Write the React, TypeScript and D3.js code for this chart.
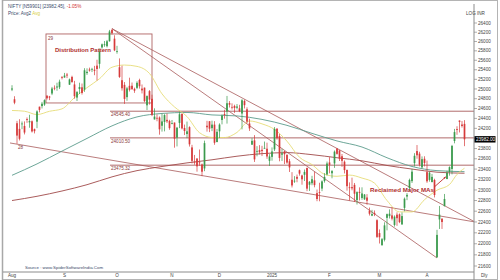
import React from "react";
import * as d3 from "d3";

const monthLabels = ["Aug", "S", "O", "N", "D", "2025", "F", "M", "A"];
const monthStartIdx = [0, 21, 42, 64, 83, 104, 127, 147, 166];

const opens = [
  24987,24789,24303,24190,24289,24248,24386,24320,24342,24184,
  24334,24637,24649,24680,24863,24845,24906,25024,25030,25035,
  25249,25238,25300,25089,25250,25094,24823,24999,25035,24986,
  25330,25406,25416,25402,25487,25525,25872,25921,25899,26005,
  26248,26061,25788,25453,25182,25085,24832,25065,25067,25002,
  25023,25186,25008,25027,24665,24956,24798,24379,24412,24418,
  24252,24329,24371,24349,24302,24316,24016,24309,24489,24207,
  24087,24225,23822,23542,23606,23529,23489,23412,24253,24343,
  24204,24275,23927,24141,24368,24489,24540,24711,24633,24652,
  24615,24604,24498,24753,24584,24298,23877,23961,23738,23769,
  23775,23801,23796,23560,23637,23784,24196,24045,23679,23746,
  23675,23551,23195,23165,23250,23378,23277,23290,23422,23099,
  23128,23183,22940,22960,23026,23169,23297,23528,23319,23509,
  23801,23761,23650,23543,23383,23050,23055,23097,22810,22964,
  22848,22822,22857,22609,22517,22568,22433,22195,21975,22073,
  22476,22509,22522,22345,22536,22542,22353,22662,22875,23036,
  23168,23515,23751,23700,23433,23600,23341,23192,23150,23190,
  21758,22446,22460,22695,23208,23345,23402,23949,24185,24357,
  24277,24290,
];
const highs = [
  25078,24851,24350,24383,24338,24340,24419,24473,24359,24196,
  24563,24638,24734,24787,24867,24858,25043,25074,25130,25193,
  25268,25334,25333,25216,25275,25168,24957,25130,25113,25433,
  25430,25445,25441,25482,25611,25849,25956,26011,26033,26250,
  26277,26134,25907,25639,25485,25143,25044,25234,25134,25028,
  25160,25213,25093,25029,24869,24978,24882,24604,24480,24440,
  24493,24485,24499,24372,24368,24316,24229,24537,24503,24276,
  24336,24242,23873,23675,23606,23781,23507,23956,24351,24343,
  24354,24345,24188,24301,24482,24574,24857,24751,24705,24677,
  24691,24675,24792,24781,24625,24394,24005,24065,23847,23867,
  23854,23938,23916,23690,23822,24226,24196,24089,23795,23751,
  23690,23596,23341,23264,23294,23391,23292,23391,23426,23169,
  23270,23347,23008,23137,23183,23322,23546,23632,23381,23762,
  23807,23773,23694,23568,23391,23144,23235,23133,22974,23049,
  23050,22923,22921,22668,22625,22614,22450,22262,22105,22394,
  22556,22634,22677,22522,22578,22558,22577,22857,22941,23216,
  23403,23709,23869,23737,23646,23649,23565,23350,23306,23214,
  22255,22698,22468,22924,23368,23452,23872,24189,24242,24359,
  24347,24365,
];
const lows = [
  24956,24687,23894,23960,24184,24079,24311,24212,24117,24099,
  24204,24522,24601,24654,24784,24771,24874,24973,24964,24998,
  25199,25235,25226,25084,25127,24801,24753,24896,24885,24941,
  25292,25361,25352,25286,25176,25426,25847,25886,25872,25998,
  26151,25794,25740,25230,24966,24694,24756,24948,24980,24920,
  24996,25008,24908,24728,24568,24679,24446,24378,24342,24074,
  24135,24140,24307,24172,24281,23817,23842,24204,24179,24066,
  24004,23839,23509,23484,23350,23464,23263,23359,24135,24125,
  24145,23874,23927,24008,24280,24395,24295,24620,24580,24511,
  24583,24527,24180,24601,24303,24149,23870,23538,23647,23685,
  23653,23800,23599,23460,23562,23751,23976,23551,23557,23496,
  23503,23344,23047,23135,23147,23273,23100,23170,22977,22981,
  23090,23050,22787,22786,22977,23139,23277,23318,23222,23423,
  23680,23556,23443,23316,22987,22798,22993,22774,22725,22801,
  22814,22812,22721,22519,22508,22508,22105,22005,21964,22043,
  22245,22464,22429,22315,22329,22378,22353,22599,22807,22973,
  23133,23451,23601,23451,23412,23451,23136,23158,23146,22858,
  21744,22271,22271,22690,23207,23273,23298,23903,24072,24119,
  24216,23847,
];
const closes = [
  25011,24718,24056,23993,24297,24117,24368,24347,24139,24144,
  24541,24572,24698,24770,24811,24823,25010,25017,25052,25151,
  25235,25279,25279,25198,25145,24852,24936,25041,24918,25389,
  25357,25383,25418,25377,25416,25791,25939,25940,26004,26216,
  26179,25811,25797,25250,25015,24796,25013,24982,24998,24964,
  25128,25057,24971,24750,24854,24781,24472,24436,24399,24181,
  24339,24467,24341,24205,24304,23995,24213,24484,24199,24148,
  24141,23883,23559,23533,23453,23518,23349,23907,24222,24194,
  24275,23914,24131,24276,24457,24467,24708,24678,24620,24610,
  24641,24548,24768,24668,24336,24199,23952,23588,23753,23728,
  23750,23813,23645,23645,23743,24189,24005,23616,23708,23689,
  23527,23432,23086,23176,23213,23312,23203,23345,23025,23155,
  23205,23092,22829,22957,23163,23249,23508,23482,23361,23739,
  23696,23603,23560,23381,23072,23045,23031,22929,22959,22945,
  22933,22913,22796,22553,22547,22545,22125,22119,22083,22337,
  22545,22553,22461,22498,22470,22397,22509,22834,22907,23191,
  23350,23658,23669,23487,23592,23519,23165,23332,23250,22904,
  22162,22536,22399,22829,23329,23437,23852,24126,24167,24329,
  24247,23982,
];

// moving averages
const yellowIdx = [0,5,10,15,20,25,30,35,40,45,50,55,60,65,70,75,80,85,90,95,100,105,110,115,120,125,130,135,140,145,150,155,160,165,170,175,178,181];
const yellowMA = [24560,24545,24477,24544,24593,24822,25027,25212,25453,25499,25471,25322,24900,24632,24437,24114,24020,24016,24120,24348,24290,24179,23944,23629,23487,23299,23261,23284,23227,23130,22801,22587,22587,22815,22995,23103,23298,23416];
const maIdx = [0,10,20,30,40,50,60,70,80,90,100,110,120,130,140,150,160,170,181];
const tealMA = [23280,23500,23750,24000,24250,24430,24500,24520,24470,24450,24380,24260,24100,23950,23830,23620,23450,23370,23350];
const maroonMA = [22800,22880,22980,23100,23250,23370,23450,23520,23580,23650,23700,23720,23680,23620,23560,23470,23400,23340,23320];

// trendlines [idx, price] -> [idx, price]
const trendLines: [number, number, number, number][] = [
  [40, 26277, 185.2, 22400],
  [40, 26277, 170, 21744],
  [-0.8, 23910, 185.2, 22400],
];
const levels = [24545.4, 24010.5, 23475.32];
const levelLabels = ["24545.40", "24010.50", "23475.32"];
const levelStartIdx = 39.2;
const boxIdx = [13.6, 56];
const boxPrice = [26162, 24713];

const yTicks = d3.range(21600, 26401, 200);

const FONT = "'Liberation Sans', Arial, sans-serif";
const GREEN = "#3a9a4c";
const RED = "#d63a3a";
const TL = "#a85a5a";

export default function App() {
  const x = d3.scaleLinear().domain([0, 181]).range([12, 464.5]);
  const y = d3.scaleLog().domain([21600, 26400]).range([266, 23]);
  const AX = 474;
  const BOT = 272;

  const lineGen = (idx: number[], vals: number[]) =>
    d3.line<number>().x((_, i) => x(idx[i])).y((v) => y(v)).curve(d3.curveMonotoneX)(vals) || "";

  const lastClose = closes[closes.length - 1];
  const lastY = y(lastClose);

  return (
    <svg width={500} height={280} style={{ position: "absolute", left: 0, top: 0, background: "#fff" }} fontFamily={FONT}>
      <rect x={0} y={0} width={500} height={280} fill="#fff" />
      <rect x={2.5} y={0.5} width={495} height={279} fill="none" stroke="#b4b4b4" strokeWidth={1} />
      <line x1={2.5} x2={2.5} y1={0} y2={280} stroke="#a8a8a8" strokeWidth={1.5} />

      <defs>
        <clipPath id="plot">
          <rect x={3} y={4} width={AX - 3} height={BOT - 4} />
        </clipPath>
      </defs>

      <g clipPath="url(#plot)">
        <rect
          x={x(boxIdx[0])}
          y={y(boxPrice[0])}
          width={x(boxIdx[1]) - x(boxIdx[0])}
          height={y(boxPrice[1]) - y(boxPrice[0])}
          fill="none"
          stroke="#b06464"
          strokeWidth={0.9}
        />
        {levels.map((lv, i) => (
          <g key={i}>
            <line x1={x(levelStartIdx)} x2={AX} y1={y(lv)} y2={y(lv)} stroke={TL} strokeWidth={0.9} />
            <text x={x(levelStartIdx) + 1} y={y(lv) + 5} fontSize={4.6} fill="#8a3c3c">
              {levelLabels[i]}
            </text>
          </g>
        ))}
        {trendLines.map((t, i) => (
          <line key={i} x1={x(t[0])} y1={y(t[1])} x2={x(t[2])} y2={y(t[3])} stroke={TL} strokeWidth={0.8} />
        ))}

        <path d={lineGen(maIdx, maroonMA)} fill="none" stroke="#a04a4a" strokeWidth={0.9} />
        <path d={lineGen(maIdx, tealMA)} fill="none" stroke="#5c9c8c" strokeWidth={0.9} />
        <path d={lineGen(yellowIdx, yellowMA)} fill="none" stroke="#e6dc78" strokeWidth={0.9} />

        {closes.map((c, i) => {
          const o = opens[i];
          const up = c >= o;
          const col = up ? GREEN : RED;
          const cx = x(i);
          const top = y(Math.max(o, c));
          const bot = y(Math.min(o, c));
          return (
            <g key={i}>
              <line x1={cx} x2={cx} y1={y(highs[i])} y2={y(lows[i])} stroke={col} strokeWidth={0.7} />
              <rect x={cx - 0.85} y={top} width={1.7} height={Math.max(0.8, bot - top)} fill={col} />
            </g>
          );
        })}

        <text x={x(boxIdx[0]) + 2} y={y(boxPrice[0]) + 6} fontSize={4.6} fill="#8a3c3c">29</text>
        <text x={x(trendLines[2][0]) + 8} y={y(trendLines[2][1]) + 6.5} fontSize={4.6} fill="#8a3c3c">28</text>
        <text x={x(17.2)} y={y(25775)} fontSize={6} fontWeight="bold" fill="#b03030">Distribution Pattern</text>
        <text x={x(143.2)} y={y(22961)} fontSize={6.2} fontWeight="bold" fill="#b03030">Reclaimed Major MAs</text>
        <line x1={x(169)} y1={y(23060)} x2={x(173.5)} y2={y(23250)} stroke="#c03030" strokeWidth={0.9} />
        <path d={`M${x(173.5)},${y(23250)} l-2.2,0.6 l1.2,1.6 z`} fill="#c03030" />
      </g>

      <line x1={AX} x2={AX} y1={4} y2={BOT + 8} stroke="#8c8c8c" strokeWidth={1} />
      <line x1={3} x2={AX} y1={BOT} y2={BOT} stroke="#8c8c8c" strokeWidth={1} />
      {yTicks.map((t) => (
        <g key={t}>
          <line x1={AX} x2={AX + 3} y1={y(t)} y2={y(t)} stroke="#8c8c8c" strokeWidth={0.7} />
          {Math.abs(y(t) - lastY) > 5 && (
            <text x={AX + 4} y={y(t) + 1.6} fontSize={4.6} fill="#444">
              {t}
            </text>
          )}
        </g>
      ))}
      <rect x={AX + 0.5} y={lastY - 3.2} width={21} height={6.4} fill="#000" />
      <text x={AX + 2} y={lastY + 1.7} fontSize={4.6} fill="#fff">
        {lastClose.toFixed(2)}
      </text>
      <text x={466} y={15} fontSize={4.6} fill="#444">LOG</text>
      <text x={477} y={15} fontSize={4.6} fill="#444">INR</text>
      <text x={481} y={277} fontSize={4.6} fill="#444">Dly</text>

      {monthLabels.map((m, i) => (
        <text key={m} x={x(monthStartIdx[i])} y={277} fontSize={4.6} fill="#444" textAnchor="middle">
          {m}
        </text>
      ))}

      <text x={25} y={269} fontSize={4.4} fill="#3a4a6a">Source : www.SpiderSoftwareIndia.Com</text>

      <text x={8} y={8} fontSize={4.6} fill="#3a4a6a">
        NIFTY [N59901] [23982.45],{" "}
        <tspan fill="#d03030">-1.05%</tspan>
      </text>
      <text x={8} y={15} fontSize={4.6} fill="#3a4a6a">
        Price: Avg2 <tspan fill="#d8d040">Avg</tspan>
      </text>
    </svg>
  );
}
